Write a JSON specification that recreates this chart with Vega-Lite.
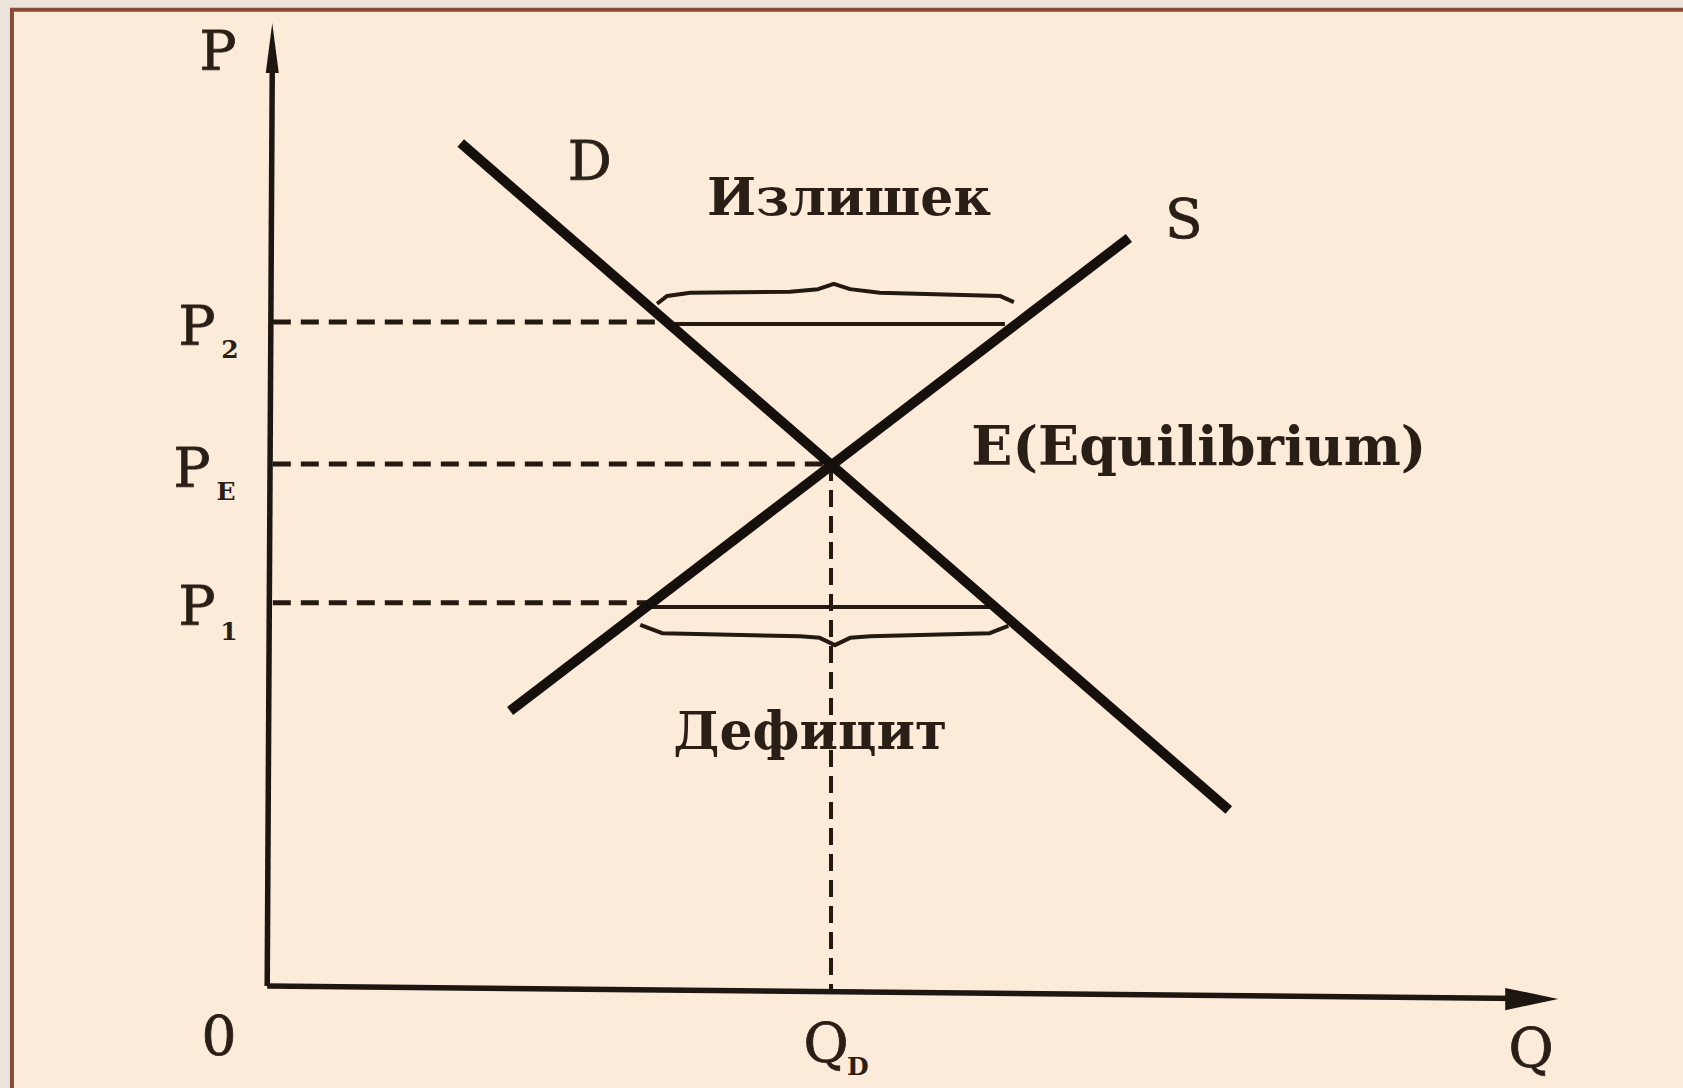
{
  "$schema": "https://vega.github.io/schema/vega-lite/v6.json",
  "width": 1683,
  "height": 1088,
  "autosize": "none",
  "padding": 0,
  "background": "#ECE4DA",
  "config": {"view": {"stroke": null}},
  "datasets": {
    "frame": [{"x": -4.6, "x2": 30, "y": 18.7, "y2": -5}],
    "segments": [
      {"seg": "yaxis", "kind": "axis", "o": 1, "x": -0.05, "y": 0},
      {"seg": "yaxis", "kind": "axis", "o": 2, "x": 0.04, "y": 17.6},
      {"seg": "xaxis", "kind": "axis", "o": 1, "x": -0.05, "y": 0},
      {"seg": "xaxis", "kind": "axis", "o": 2, "x": 22.3, "y": -0.24},
      {"seg": "D", "kind": "curve", "o": 1, "x": 3.4, "y": 16.15},
      {"seg": "D", "kind": "curve", "o": 2, "x": 17.09, "y": 3.37},
      {"seg": "S", "kind": "curve", "o": 1, "x": 4.28, "y": 5.27},
      {"seg": "S", "kind": "curve", "o": 2, "x": 15.31, "y": 14.33},
      {"seg": "dP2", "kind": "dash", "o": 1, "x": 0.05, "y": 12.72},
      {"seg": "dP2", "kind": "dash", "o": 2, "x": 7.07, "y": 12.72},
      {"seg": "dPE", "kind": "dash", "o": 1, "x": 0.05, "y": 10},
      {"seg": "dPE", "kind": "dash", "o": 2, "x": 10, "y": 10},
      {"seg": "dP1", "kind": "dash", "o": 1, "x": 0.05, "y": 7.34},
      {"seg": "dP1", "kind": "dash", "o": 2, "x": 6.78, "y": 7.34},
      {"seg": "dQD", "kind": "vdash", "o": 1, "x": 10, "y": 10},
      {"seg": "dQD", "kind": "vdash", "o": 2, "x": 10, "y": -0.11},
      {"seg": "surplus", "kind": "thin", "o": 1, "x": 7.07, "y": 12.68},
      {"seg": "surplus", "kind": "thin", "o": 2, "x": 13.1, "y": 12.68},
      {"seg": "deficit", "kind": "thin", "o": 1, "x": 6.7, "y": 7.26},
      {"seg": "deficit", "kind": "thin", "o": 2, "x": 12.9, "y": 7.26},
      {"seg": "bs", "kind": "thin", "o": 1, "x": 6.9, "y": 13.07},
      {"seg": "bs", "kind": "thin", "o": 2, "x": 7.08, "y": 13.22},
      {"seg": "bs", "kind": "thin", "o": 3, "x": 7.49, "y": 13.28},
      {"seg": "bs", "kind": "thin", "o": 4, "x": 9.27, "y": 13.3},
      {"seg": "bs", "kind": "thin", "o": 5, "x": 9.77, "y": 13.35},
      {"seg": "bs", "kind": "thin", "o": 6, "x": 10.05, "y": 13.45},
      {"seg": "bs", "kind": "thin", "o": 7, "x": 10.34, "y": 13.35},
      {"seg": "bs", "kind": "thin", "o": 8, "x": 10.87, "y": 13.28},
      {"seg": "bs", "kind": "thin", "o": 9, "x": 13.01, "y": 13.22},
      {"seg": "bs", "kind": "thin", "o": 10, "x": 13.26, "y": 13.1},
      {"seg": "bd", "kind": "thin", "o": 1, "x": 6.6, "y": 6.92},
      {"seg": "bd", "kind": "thin", "o": 2, "x": 6.99, "y": 6.76},
      {"seg": "bd", "kind": "thin", "o": 3, "x": 9.45, "y": 6.7},
      {"seg": "bd", "kind": "thin", "o": 4, "x": 9.8, "y": 6.67},
      {"seg": "bd", "kind": "thin", "o": 5, "x": 10.07, "y": 6.53},
      {"seg": "bd", "kind": "thin", "o": 6, "x": 10.34, "y": 6.67},
      {"seg": "bd", "kind": "thin", "o": 7, "x": 10.7, "y": 6.7},
      {"seg": "bd", "kind": "thin", "o": 8, "x": 12.83, "y": 6.76},
      {"seg": "bd", "kind": "thin", "o": 9, "x": 13.16, "y": 6.9}
    ],
    "arrows": [
      {"dir": "up", "x": 0.04, "y": 17.97},
      {"dir": "right", "x": 22.49, "y": -0.25}
    ],
    "labels": [
      {"role": "main", "text": "P", "x": -0.927, "y": 17.55},
      {"role": "main", "text": "P", "x": -1.3, "y": 12.28},
      {"role": "main", "text": "P", "x": -1.39, "y": 9.56},
      {"role": "main", "text": "P", "x": -1.3, "y": 6.92},
      {"role": "main", "text": "0", "x": -0.909, "y": -1.32},
      {"role": "main", "text": "Q", "x": 9.91, "y": -1.456},
      {"role": "main", "text": "Q", "x": 22.48, "y": -1.55},
      {"role": "main", "text": "D", "x": 5.7, "y": 15.44},
      {"role": "main", "text": "S", "x": 16.29, "y": 14.33},
      {"role": "sub", "text": "2", "x": -0.713, "y": 12.03},
      {"role": "sub", "text": "E", "x": -0.784, "y": 9.31},
      {"role": "sub", "text": "1", "x": -0.731, "y": 6.63},
      {"role": "sub", "text": "D", "x": 10.48, "y": -1.705},
      {"role": "word", "text": "Излишек", "x": 10.32, "y": 14.77},
      {"role": "word", "text": "Дефицит", "x": 9.63, "y": 4.54},
      {"role": "wordleft", "text": "E(Equilibrium)", "x": 12.5, "y": 9.98}
    ]
  },
  "encoding": {
    "x": {"field": "x", "type": "quantitative", "scale": {"domain": [-4.813, 25.187], "nice": false, "zero": false}, "axis": null},
    "y": {"field": "y", "type": "quantitative", "scale": {"domain": [-1.954, 18.889], "nice": false, "zero": false}, "axis": null}
  },
  "layer": [
    {
      "data": {"name": "frame"},
      "mark": {"type": "rect", "fill": "#FCEBD9", "stroke": "#8A4B36", "strokeWidth": 4, "clip": true},
      "encoding": {"x2": {"field": "x2"}, "y2": {"field": "y2"}}
    },
    {
      "data": {"name": "segments"},
      "transform": [{"filter": "datum.kind === 'dash'"}],
      "mark": {"type": "line", "color": "#231910", "strokeWidth": 5, "strokeDash": [18, 10], "strokeCap": "butt"},
      "encoding": {"detail": {"field": "seg"}, "order": {"field": "o"}}
    },
    {
      "data": {"name": "segments"},
      "transform": [{"filter": "datum.kind === 'vdash'"}],
      "mark": {"type": "line", "color": "#231910", "strokeWidth": 4, "strokeDash": [17, 9], "strokeCap": "butt"},
      "encoding": {"detail": {"field": "seg"}, "order": {"field": "o"}}
    },
    {
      "data": {"name": "segments"},
      "transform": [{"filter": "datum.kind === 'thin'"}],
      "mark": {"type": "line", "color": "#231910", "strokeWidth": 4, "strokeJoin": "round"},
      "encoding": {"detail": {"field": "seg"}, "order": {"field": "o"}}
    },
    {
      "data": {"name": "segments"},
      "transform": [{"filter": "datum.kind === 'axis'"}],
      "mark": {"type": "line", "color": "#1E1610", "strokeWidth": 5.5, "strokeCap": "butt"},
      "encoding": {"detail": {"field": "seg"}, "order": {"field": "o"}}
    },
    {
      "data": {"name": "segments"},
      "transform": [{"filter": "datum.kind === 'curve'"}],
      "mark": {"type": "line", "color": "#15100C", "strokeWidth": 10, "strokeCap": "butt"},
      "encoding": {"detail": {"field": "seg"}, "order": {"field": "o"}}
    },
    {
      "data": {"name": "arrows"},
      "transform": [{"filter": "datum.dir === 'up'"}],
      "mark": {"type": "point", "filled": true, "opacity": 1, "color": "#1E1610", "shape": "M0,-1L0.26,1L-0.26,1Z", "size": 2500}
    },
    {
      "data": {"name": "arrows"},
      "transform": [{"filter": "datum.dir === 'right'"}],
      "mark": {"type": "point", "filled": true, "opacity": 1, "color": "#1E1610", "shape": "M1,0L-1,-0.42L-1,0.42Z", "size": 2809}
    },
    {
      "data": {"name": "labels"},
      "transform": [{"filter": "datum.role === 'main'"}],
      "mark": {"type": "text", "font": "DejaVu Serif", "fontSize": 55, "color": "#2A1F17", "align": "center", "baseline": "alphabetic", "stroke": "#2A1F17", "strokeWidth": 0.8},
      "encoding": {"text": {"field": "text"}}
    },
    {
      "data": {"name": "labels"},
      "transform": [{"filter": "datum.role === 'sub'"}],
      "mark": {"type": "text", "font": "DejaVu Serif", "fontSize": 25, "fontWeight": "bold", "color": "#2A1F17", "align": "center", "baseline": "alphabetic"},
      "encoding": {"text": {"field": "text"}}
    },
    {
      "data": {"name": "labels"},
      "transform": [{"filter": "datum.role === 'word'"}],
      "mark": {"type": "text", "font": "DejaVu Serif", "fontSize": 52, "fontWeight": "bold", "color": "#2A1F17", "align": "center", "baseline": "alphabetic"},
      "encoding": {"text": {"field": "text"}}
    },
    {
      "data": {"name": "labels"},
      "transform": [{"filter": "datum.role === 'wordleft'"}],
      "mark": {"type": "text", "font": "DejaVu Serif", "fontSize": 54, "fontWeight": "bold", "color": "#2A1F17", "align": "left", "baseline": "alphabetic"},
      "encoding": {"text": {"field": "text"}}
    }
  ]
}
